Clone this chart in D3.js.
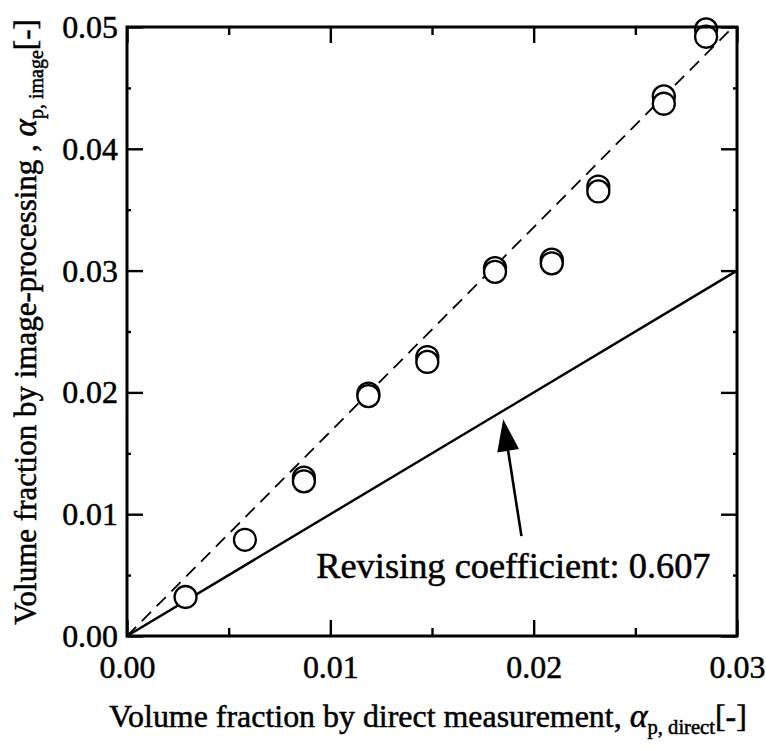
<!DOCTYPE html>
<html>
<head>
<meta charset="utf-8">
<script src="https://cdn.jsdelivr.net/npm/d3@7"></script>
<style>
  body { margin: 0; background: #fff; }
  svg { display: block; }
</style>
</head>
<body>
<svg id="chart" width="766" height="749"></svg>
<script>
// ---- data ----
const xDirect = [0.00288, 0.0058, 0.0087, 0.0087, 0.01187, 0.01187, 0.01477, 0.01477,
                 0.0181, 0.0181, 0.02089, 0.02089, 0.02318, 0.02318, 0.0264, 0.0264, 0.02848, 0.02848];
const yImage  = [0.0032, 0.0079, 0.0127, 0.0130, 0.0197, 0.0199, 0.0225, 0.0229,
                 0.0299, 0.0302, 0.0306, 0.0309, 0.0365, 0.0369, 0.0437, 0.0443, 0.0492, 0.0498];
const xTickValues = [0, 0.01, 0.02, 0.03];
const yTickValues = [0, 0.01, 0.02, 0.03, 0.04, 0.05];
const xMinorTicks = [0.005, 0.015, 0.025];
const yMinorTicks = [0.005, 0.015, 0.025, 0.035, 0.045];
const solidLine  = [[0, 0], [0.03, 0.03]];        // y = x
const dashedLine = [[0, 0], [0.0298, 0.05]];      // fit through image data
const annotationText = "Revising coefficient: 0.607";
const arrowFrom = [0.0194, 0.0082];
const arrowTo   = [0.0185, 0.0178];
const labelAnchor = [0.0287, 0.0048];

// ---- layout ----
const FONT = '"Liberation Serif", "Times New Roman", Tinos, serif';
const svg = d3.select("#chart").attr("font-family", FONT);
const x = d3.scaleLinear().domain([0, 0.03]).range([127, 737]);
const y = d3.scaleLinear().domain([0, 0.05]).range([636, 27]);
const fmt = d3.format(".2f");
const fs = 31, stretch = 1.03;
const heavy = sel => sel.attr("fill", "#000").attr("stroke", "#000").attr("stroke-width", 0.5);

// reference lines
const line = d3.line().x(d => x(d[0])).y(d => y(d[1]));
svg.append("path").datum(solidLine).attr("d", line)
  .attr("fill", "none").attr("stroke", "#000").attr("stroke-width", 2.4);
svg.append("path").datum(dashedLine).attr("d", line)
  .attr("fill", "none").attr("stroke", "#000").attr("stroke-width", 1.8)
  .attr("stroke-dasharray", "13,8");

// points (upper circle of each pair drawn first)
const pts = xDirect.map((v, i) => ({ x: v, y: yImage[i] }))
  .sort((a, b) => (a.x - b.x) || (b.y - a.y));
svg.append("g").selectAll("circle").data(pts).join("circle")
  .attr("cx", d => x(d.x)).attr("cy", d => y(d.y)).attr("r", 11)
  .attr("fill", "#fff").attr("stroke", "#000").attr("stroke-width", 2.3);

// axes: major ticks
function styleAxis(g) {
  g.attr("font-family", FONT);
  g.select(".domain").remove();
  g.selectAll(".tick line").attr("stroke", "#000").attr("stroke-width", 2.4);
}
const bottom = svg.append("g").attr("transform", `translate(0,${y(0)})`)
  .call(d3.axisBottom(x).tickValues(xTickValues).tickFormat(fmt).tickSizeInner(-16).tickSizeOuter(0).tickPadding(0))
  .call(styleAxis);
bottom.selectAll(".tick text").attr("y", null).attr("dy", null)
  .attr("font-family", FONT).attr("font-size", fs).attr("text-anchor", "middle").call(heavy)
  .attr("transform", `translate(0,42) scale(${stretch},1)`);

const left = svg.append("g").attr("transform", `translate(${x(0)},0)`)
  .call(d3.axisLeft(y).tickValues(yTickValues).tickFormat(fmt).tickSizeInner(-16).tickSizeOuter(0))
  .call(styleAxis);
left.selectAll(".tick text").attr("x", null).attr("dy", null)
  .attr("font-family", FONT).attr("font-size", fs).attr("text-anchor", "end").call(heavy)
  .attr("transform", `translate(-9,10.5) scale(${stretch},1)`);

svg.append("g").attr("transform", `translate(0,${y(0.05)})`)
  .call(d3.axisTop(x).tickValues(xTickValues).tickFormat("").tickSizeInner(-16).tickSizeOuter(0))
  .call(styleAxis);
svg.append("g").attr("transform", `translate(${x(0.03)},0)`)
  .call(d3.axisRight(y).tickValues(yTickValues).tickFormat("").tickSizeInner(-16).tickSizeOuter(0))
  .call(styleAxis);

// minor ticks
[[y(0), -1], [y(0.05), 1]].forEach(([yy, dir]) => {
  svg.append("g").call(d3.axisBottom(x).tickValues(xMinorTicks).tickFormat("").tickSizeInner(dir * 8).tickSizeOuter(0))
    .attr("transform", `translate(0,${yy})`).call(styleAxis);
});
[[x(0), 1], [x(0.03), -1]].forEach(([xx, dir]) => {
  svg.append("g").call(d3.axisRight(y).tickValues(yMinorTicks).tickFormat("").tickSizeInner(dir * 4).tickSizeOuter(0))
    .attr("transform", `translate(${xx},0)`).call(styleAxis);
});

// frame
svg.append("rect").attr("x", x(0)).attr("y", y(0.05))
  .attr("width", x(0.03) - x(0)).attr("height", y(0) - y(0.05))
  .attr("fill", "none").attr("stroke", "#000").attr("stroke-width", 3);

// annotation arrow
const ax0 = x(arrowFrom[0]), ay0 = y(arrowFrom[1]);
const ax1 = x(arrowTo[0]),   ay1 = y(arrowTo[1]);
const ang = Math.atan2(ay1 - ay0, ax1 - ax0);
const headLen = 32, headHalf = 11;
const bx = ax1 - headLen * Math.cos(ang), by = ay1 - headLen * Math.sin(ang);
svg.append("line").attr("x1", ax0).attr("y1", ay0).attr("x2", bx).attr("y2", by)
  .attr("stroke", "#000").attr("stroke-width", 2.6);
svg.append("path")
  .attr("d", `M${ax1},${ay1} L${bx + headHalf * Math.sin(ang)},${by - headHalf * Math.cos(ang)} L${bx - headHalf * Math.sin(ang)},${by + headHalf * Math.cos(ang)} Z`)
  .attr("fill", "#000");

svg.append("text").attr("font-family", FONT).attr("font-size", 35).attr("text-anchor", "end").call(heavy)
  .attr("transform", `translate(${x(labelAnchor[0])},${y(labelAnchor[1])}) scale(1.04,1)`)
  .text(annotationText);

// axis titles
const xt = svg.append("text").attr("font-family", FONT).attr("font-size", fs).attr("text-anchor", "middle").call(heavy)
  .attr("transform", `translate(428,727) scale(${stretch},1)`);
xt.append("tspan").text("Volume fraction by direct measurement, ");
xt.append("tspan").attr("font-style", "italic").attr("font-size", 33).text("α");
xt.append("tspan").attr("font-size", 20).attr("dy", 7).text("p, direct");
xt.append("tspan").attr("dy", -7).text("[-]");

const yt = svg.append("text").attr("font-family", FONT).attr("font-size", fs).attr("text-anchor", "middle").call(heavy)
  .attr("transform", `translate(36,322) rotate(-90)`);
yt.append("tspan").text("Volume fraction by image-processing , ");
yt.append("tspan").attr("font-style", "italic").attr("font-size", 33).text("α");
yt.append("tspan").attr("font-size", 20).attr("dy", 7).text("p, image");
yt.append("tspan").attr("dy", -7).text("[-]");
</script>
</body>
</html>
